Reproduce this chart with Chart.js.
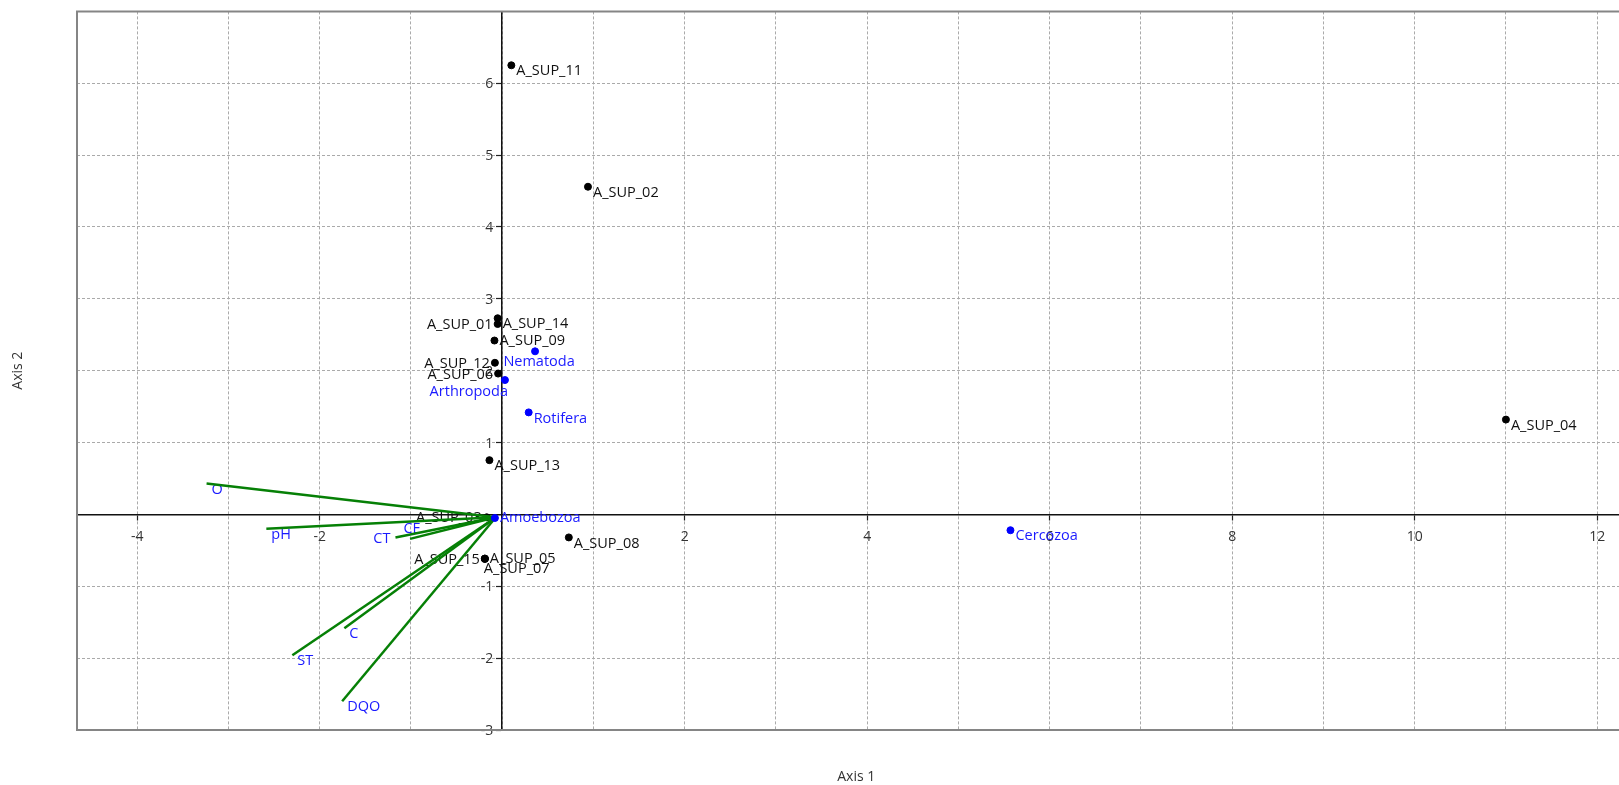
<!DOCTYPE html>
<html>
<head>
<meta charset="utf-8">
<script src="https://cdn.jsdelivr.net/npm/chart.js@4.4.1/dist/chart.umd.min.js"></script>
<style>
html,body{margin:0;padding:0;background:#fff;overflow:hidden;}
#wrap{position:relative;width:1640px;height:785px;}
canvas{display:block;}
</style>
</head>
<body>
<div id="wrap"><canvas id="c" width="1640" height="785"></canvas></div>
<script>
// ---------- data ----------
const sampleNames = ['A_SUP_01','A_SUP_02','A_SUP_03','A_SUP_04','A_SUP_05','A_SUP_06','A_SUP_07','A_SUP_08','A_SUP_09','A_SUP_11','A_SUP_12','A_SUP_13','A_SUP_14','A_SUP_15'];
const sampleX = [-0.05, 0.94, -0.17, 11.00, -0.19, -0.045, -0.19, 0.73, -0.085, 0.10, -0.08, -0.14, -0.05, -0.19];
const sampleY = [2.65, 4.56, -0.04, 1.32, -0.615, 1.96, -0.62, -0.32, 2.42, 6.25, 2.11, 0.755, 2.73, -0.615];

const speciesNames = ['Nematoda','Arthropoda','Rotifera','Amoebozoa','Cercozoa'];
const speciesX = [0.36, 0.03, 0.29, -0.08, 5.57];
const speciesY = [2.27, 1.87, 1.42, -0.05, -0.22];

const envNames = ['O','pH','CT','CE','C','ST','DQO'];
const envX = [-3.24, -2.585, -1.17, -1.01, -1.73, -2.30, -1.754];
const envY = [0.43, -0.20, -0.32, -0.34, -1.585, -1.96, -2.60];
const envOriginX = -0.07;
const envOriginY = -0.04;

const xGridValues = [-4,-3,-2,-1,0,1,2,3,4,5,6,7,8,9,10,11,12];
const xTickLabels = [-4,-2,2,4,6,8,10,12];
const yGridValues = [-3,-2,-1,0,1,2,3,4,5,6,7];
const yTickLabels = [-3,-2,-1,1,2,3,4,5,6];
const xAxisTitle = 'Axis 1';
const yAxisTitle = 'Axis 2';

// ---------- label placement (style only) ----------
const samplePlace = ['l','br','l','br','r','l','bs','br','r','br','l','br','br','l'];
const speciesPlace = ['b','bl','br','r','br'];
const envPlace = ['br','br','l','a','br','br','br'];

const FONT = '"Open Sans", "Noto Sans", sans-serif';
const LABEL_SIZE = 14.5;
const TICK_SIZE = 14;

function offset(code){
  switch(code){
    case 'br': return {dx:5, dy:6, align:'left'};
    case 'r':  return {dx:5, dy:0, align:'left'};
    case 'l':  return {dx:-5, dy:1, align:'right'};
    case 'b':  return {dx:4, dy:11, align:'center'};
    case 'bl': return {dx:3, dy:12, align:'right'};
    case 'bs': return {dx:-1, dy:10, align:'left'};
    case 'a':  return {dx:2, dy:-10, align:'center'};
  }
  return {dx:5, dy:6, align:'left'};
}

const envDatasets = envNames.map((n,i)=>({
  type:'line',
  label:n,
  data:[{x:envOriginX,y:envOriginY},{x:envX[i],y:envY[i]}],
  borderColor:'#068006',
  borderWidth:2.5,
  pointRadius:0,
  fill:false,
  order:1
}));

const labelPlugin = {
  id:'labels',
  beforeDatasetsDraw(chart){
    const ctx = chart.ctx;
    const xs = chart.scales.x, ys = chart.scales.y;
    ctx.save();
    // y-axis tick labels, placed left of the crossing axis
    ctx.font = TICK_SIZE + 'px ' + FONT;
    ctx.fillStyle = '#333';
    ctx.textAlign = 'right';
    ctx.textBaseline = 'middle';
    const ax = xs.getPixelForValue(0);
    ys.ticks.forEach(t=>{
      if (yTickLabels.includes(t.value)) ctx.fillText(String(t.value), ax - 9, ys.getPixelForValue(t.value) + 1);
    });
    // point / vector labels
    ctx.font = LABEL_SIZE + 'px ' + FONT;
    function put(text, vx, vy, code, color){
      const px = xs.getPixelForValue(vx), py = ys.getPixelForValue(vy);
      const o = offset(code);
      ctx.fillStyle = color;
      ctx.textAlign = o.align;
      ctx.fillText(text, px + o.dx, py + o.dy);
    }
    sampleNames.forEach((n,i)=>put(n, sampleX[i], sampleY[i], samplePlace[i], '#111'));
    speciesNames.forEach((n,i)=>put(n, speciesX[i], speciesY[i], speciesPlace[i], '#1a1aff'));
    envNames.forEach((n,i)=>put(n, envX[i], envY[i], envPlace[i], '#1a1aff'));
    ctx.restore();
  },
  afterDraw(chart){
    const ctx = chart.ctx;
    const a = chart.chartArea;
    ctx.save();
    ctx.strokeStyle = '#858585';
    ctx.lineWidth = 2;
    ctx.beginPath();
    ctx.moveTo(a.right+5, a.top);
    ctx.lineTo(a.left, a.top);
    ctx.lineTo(a.left, a.bottom);
    ctx.lineTo(a.right+5, a.bottom);
    ctx.stroke();
    ctx.fillStyle = '#333';
    ctx.font = '14px ' + FONT;
    ctx.textAlign = 'center';
    ctx.textBaseline = 'middle';
    ctx.fillText(xAxisTitle, (a.left + a.right)/2, 777);
    ctx.translate(18, (a.top + a.bottom)/2);
    ctx.rotate(-Math.PI/2);
    ctx.fillText(yAxisTitle, 0, 0);
    ctx.restore();
  }
};

const tickCol = (labels) => (c) => (c.tick && labels.includes(c.tick.value)) ? '#222' : 'rgba(0,0,0,0)';

new Chart(document.getElementById('c'), {
  type:'scatter',
  data:{
    datasets:[
      {label:'species', data:speciesX.map((x,i)=>({x, y:speciesY[i]})), backgroundColor:'#0000ff', borderColor:'#0000ff', pointRadius:3.5, pointHoverRadius:3.5, order:0},
      ...envDatasets,
      {label:'samples', data:sampleX.map((x,i)=>({x, y:sampleY[i]})), backgroundColor:'#000', borderColor:'#000', pointRadius:3.5, pointHoverRadius:3.5, order:2}
    ]
  },
  options:{
    responsive:false,
    animation:false,
    devicePixelRatio:1,
    layout:{padding:{left:77, top:11, right:2, bottom:55}},
    plugins:{legend:{display:false}, tooltip:{enabled:false}},
    scales:{
      x:{
        type:'linear',
        min:-4.66, max:12.42,
        position:{y:0},
        afterBuildTicks(s){ s.ticks = xGridValues.map(v=>({value:v})); },
        ticks:{
          autoSkip:false,
          maxRotation:0,
          padding:9,
          color:'#333',
          font:{family:FONT, size:TICK_SIZE},
          callback:(v)=> xTickLabels.includes(v) ? String(v) : ''
        },
        grid:{
          color:'#aaaaaa',
          lineWidth:1,
          tickLength:5,
          tickColor:tickCol(xTickLabels),
          tickWidth:1.2
        },
        border:{display:true, color:'#111', width:1.5, dash:[3,2]}
      },
      y:{
        type:'linear',
        min:-3, max:7,
        position:{x:0},
        afterBuildTicks(s){ s.ticks = yGridValues.map(v=>({value:v})); },
        ticks:{
          autoSkip:false,
          color:'#333',
          font:{family:FONT, size:TICK_SIZE},
          callback:()=> ''
        },
        grid:{
          color:'#aaaaaa',
          lineWidth:1,
          tickLength:5,
          tickColor:tickCol(yTickLabels),
          tickWidth:1.2
        },
        border:{display:true, color:'#111', width:1.5, dash:[3,2]}
      }
    }
  },
  plugins:[labelPlugin]
});
</script>
</body>
</html>
